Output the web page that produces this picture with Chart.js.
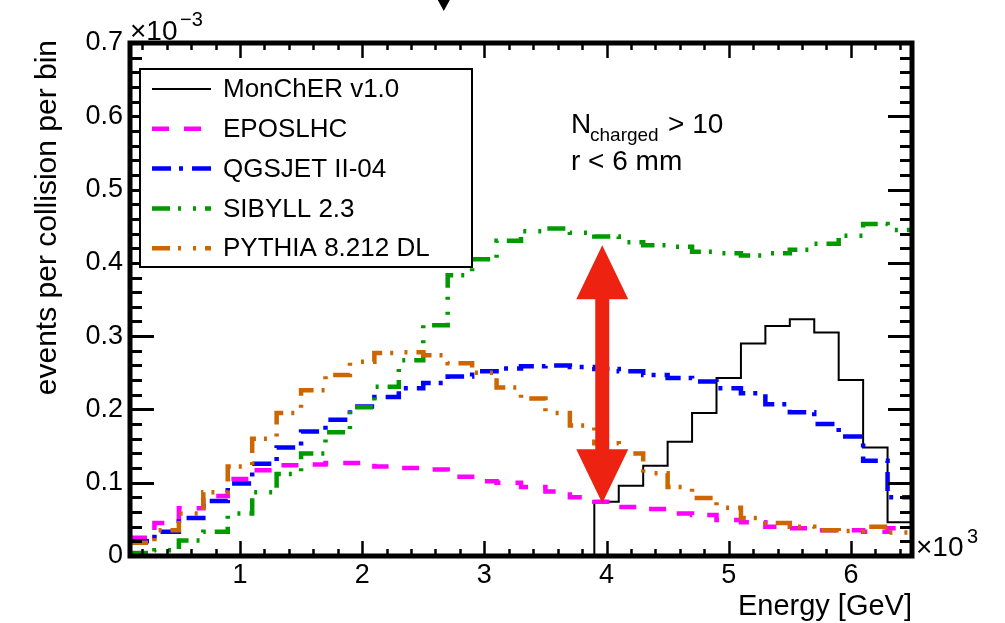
<!DOCTYPE html>
<html>
<head>
<meta charset="utf-8">
<title>Events per collision vs energy</title>
<script src="https://cdn.jsdelivr.net/npm/chart.js"></script>
<style>
  html, body { margin: 0; padding: 0; background: #fff; }
  #wrap { width: 1005px; height: 623px; position: relative; }
</style>
</head>
<body>
<div id="wrap"><canvas id="energyChart"></canvas></div>
<script>
// bin edges, units of 10^3 GeV
const binEdges = [0.1, 0.3, 0.5, 0.7, 0.9, 1.1, 1.3, 1.5, 1.7, 1.9, 2.1, 2.3, 2.5, 2.7, 2.9, 3.1,
                  3.3, 3.5, 3.7, 3.9, 4.1, 4.3, 4.5, 4.7, 4.9, 5.1, 5.3, 5.5, 5.7, 5.9, 6.1, 6.3, 6.5];

// bin contents, units of 10^-3 events per collision
const monCher = [0, 0, 0, 0, 0, 0, 0, 0, 0, 0, 0, 0, 0, 0, 0, 0, 0, 0, 0,
                 0.074, 0.096, 0.123, 0.156, 0.195, 0.243, 0.290, 0.314, 0.323, 0.305, 0.240, 0.148, 0.046];
const eposLhc = [0.025, 0.045, 0.065, 0.082, 0.105, 0.117, 0.124, 0.125, 0.127, 0.127, 0.122, 0.120, 0.118, 0.108, 0.102, 0.100,
                 0.094, 0.088, 0.080, 0.074, 0.067, 0.064, 0.058, 0.056, 0.049, 0.046, 0.040, 0.038, 0.035, 0.035, 0.033, 0.038];
const qgsjet = [0.020, 0.033, 0.052, 0.075, 0.099, 0.126, 0.148, 0.170, 0.186, 0.204, 0.217, 0.229, 0.236, 0.245, 0.252, 0.256,
                0.259, 0.260, 0.258, 0.255, 0.252, 0.247, 0.243, 0.238, 0.229, 0.222, 0.207, 0.196, 0.180, 0.163, 0.130, 0.080];
const sibyll = [0.004, 0.008, 0.021, 0.033, 0.058, 0.087, 0.112, 0.140, 0.169, 0.203, 0.231, 0.267, 0.315, 0.383, 0.405, 0.430,
                0.443, 0.447, 0.441, 0.436, 0.428, 0.424, 0.422, 0.415, 0.413, 0.410, 0.413, 0.418, 0.426, 0.437, 0.453, 0.445];
const pythia = [0.018, 0.035, 0.058, 0.087, 0.122, 0.160, 0.195, 0.226, 0.247, 0.265, 0.277, 0.278, 0.274, 0.263, 0.250, 0.230,
                0.215, 0.195, 0.178, 0.154, 0.140, 0.113, 0.094, 0.079, 0.066, 0.052, 0.045, 0.040, 0.035, 0.034, 0.040, 0.032];

const seriesNames = ['MonChER v1.0', 'EPOSLHC', 'QGSJET II-04', 'SIBYLL 2.3', 'PYTHIA 8.212 DL'];
const xTickValues = [1, 2, 3, 4, 5, 6];
const yTickValues = [0, 0.1, 0.2, 0.3, 0.4, 0.5, 0.6, 0.7];

// red double arrow (x in 10^3 GeV, y in 10^-3)
const arrowX = 3.965;
const arrowTop = 0.424;
const arrowBottom = 0.072;
const topMarkerX = 2.668;

const FONT = "'Liberation Sans', Arial, Helvetica, sans-serif";

function histPoints(vals) {
    const pts = vals.map((v, i) => ({x: binEdges[i], y: v}));
    pts.push({x: binEdges[binEdges.length - 1], y: vals[vals.length - 1]});
    return pts;
}

const styles = [
    {data: monCher, color: '#000000', width: 2, dash: []},
    {data: eposLhc, color: '#ff00ff', width: 4.5, dash: [17, 15]},
    {data: qgsjet, color: '#0000ff', width: 4.5, dash: [19, 8, 4, 9]},
    {data: sibyll, color: '#009900', width: 4.5, dash: [18, 8, 3, 12, 3, 9]},
    {data: pythia, color: '#cc6600', width: 4.5, dash: [18, 8, 3, 12, 3, 9]}
];

const datasets = styles.map((s, i) => ({
    label: seriesNames[i],
    data: histPoints(s.data),
    borderColor: s.color,
    borderWidth: s.width,
    borderDash: s.dash,
    stepped: true,
    pointRadius: 0,
    fill: false,
    tension: 0,
    order: styles.length - i
}));

const rootDecor = {
    id: 'rootDecor',
    afterDatasetsDraw(chart) {
        const {ctx, chartArea: a, scales: {x, y}} = chart;
        ctx.save();
        ctx.strokeStyle = '#000';
        ctx.fillStyle = '#000';

        // tick marks on all four sides
        ctx.lineWidth = 3;
        ctx.beginPath();
        for (let k = 0; k <= 35; k++) {
            const v = k * 0.02;
            const py = Math.round(y.getPixelForValue(v)) + 0.5;
            const len = (k % 5 === 0) ? 24 : 12;
            ctx.moveTo(a.left, py); ctx.lineTo(a.left + len, py);
            ctx.moveTo(a.right, py); ctx.lineTo(a.right - len, py);
        }
        ctx.stroke();
        ctx.lineWidth = 2.5;
        ctx.beginPath();
        for (let k = 1; k <= 32; k++) {
            const v = k * 0.2;
            if (v < 0.1 || v > 6.5) continue;
            const px = Math.round(x.getPixelForValue(v)) + 0.5;
            const len = (k % 5 === 0) ? 15 : 7;
            ctx.moveTo(px, a.bottom); ctx.lineTo(px, a.bottom - len);
            ctx.moveTo(px, a.top); ctx.lineTo(px, a.top + len);
        }
        ctx.stroke();

        // frame
        ctx.lineWidth = 5;
        ctx.strokeRect(a.left, a.top, a.right - a.left, a.bottom - a.top);

        // axis titles and multipliers
        ctx.font = '29px ' + FONT;
        ctx.textAlign = 'right';
        ctx.textBaseline = 'alphabetic';
        ctx.fillText('Energy [GeV]', a.right, 615);
        ctx.save();
        ctx.translate(56, a.top - 3);
        ctx.rotate(-Math.PI / 2);
        ctx.font = '30px ' + FONT;
        ctx.fillText('events per collision per bin', 0, 0);
        ctx.restore();

        ctx.textAlign = 'left';
        ctx.font = '28px ' + FONT;
        ctx.fillText('\u00d710', a.right + 4, 556);
        ctx.font = '20px ' + FONT;
        ctx.fillText('3', a.right + 55, 543);
        ctx.font = '28px ' + FONT;
        ctx.fillText('\u00d710', a.left, 40);
        ctx.font = '20px ' + FONT;
        ctx.fillText('\u22123', a.left + 50, 26);

        // annotation text
        ctx.font = '28px ' + FONT;
        ctx.fillText('N', 571, 133);
        ctx.font = '19px ' + FONT;
        ctx.fillText('charged', 590, 141);
        ctx.font = '28px ' + FONT;
        ctx.fillText('> 10', 668, 133);
        ctx.fillText('r < 6 mm', 571, 170);

        // legend
        const lx = 140, ly = 69, lw = 332, lh = 198;
        ctx.fillStyle = '#fff';
        ctx.fillRect(lx, ly, lw, lh);
        ctx.lineWidth = 2;
        ctx.strokeStyle = '#000';
        ctx.strokeRect(lx, ly, lw, lh);
        ctx.font = '26px ' + FONT;
        ctx.textBaseline = 'middle';
        chart.data.datasets.forEach((ds, i) => {
            const cy = ly + 20 + i * 39.8;
            ctx.save();
            ctx.strokeStyle = ds.borderColor;
            ctx.lineWidth = ds.borderWidth;
            ctx.setLineDash(ds.borderDash);
            ctx.beginPath();
            ctx.moveTo(152, cy); ctx.lineTo(211, cy);
            ctx.stroke();
            ctx.restore();
            ctx.fillStyle = '#000';
            ctx.fillText(ds.label, 223, cy + 1);
        });

        // red double arrow
        const ax = x.getPixelForValue(arrowX);
        const yT = y.getPixelForValue(arrowTop);
        const yB = y.getPixelForValue(arrowBottom);
        const hw = 26, hl = 54, sw = 7;
        ctx.fillStyle = '#ee2211';
        ctx.beginPath();
        ctx.moveTo(ax, yT);
        ctx.lineTo(ax + hw, yT + hl);
        ctx.lineTo(ax + sw, yT + hl);
        ctx.lineTo(ax + sw, yB - hl);
        ctx.lineTo(ax + hw, yB - hl);
        ctx.lineTo(ax, yB);
        ctx.lineTo(ax - hw, yB - hl);
        ctx.lineTo(ax - sw, yB - hl);
        ctx.lineTo(ax - sw, yT + hl);
        ctx.lineTo(ax - hw, yT + hl);
        ctx.closePath();
        ctx.fill();

        // small black marker at the top edge
        const mx = x.getPixelForValue(topMarkerX);
        ctx.fillStyle = '#000';
        ctx.beginPath();
        ctx.moveTo(mx - 6, 0); ctx.lineTo(mx + 6, 0); ctx.lineTo(mx, 11);
        ctx.closePath();
        ctx.fill();

        ctx.restore();
    }
};

const ctx = document.getElementById('energyChart').getContext('2d');
const chart = new Chart(ctx, {
    type: 'line',
    data: {datasets: datasets},
    plugins: [rootDecor],
    options: {
        responsive: true,
        maintainAspectRatio: false,
        animation: false,
        devicePixelRatio: 1,
        layout: {padding: {top: 43, right: 93, bottom: 0, left: 0}},
        plugins: {legend: {display: false}, tooltip: {enabled: false}},
        scales: {
            x: {
                type: 'linear',
                min: 0.1,
                max: 6.5,
                grid: {display: false, drawTicks: false},
                border: {display: false},
                afterFit: s => { s.height = 67; },
                afterBuildTicks: s => { s.ticks = xTickValues.map(v => ({value: v})); },
                ticks: {
                    autoSkip: false,
                    maxRotation: 0,
                    padding: 3,
                    color: '#000',
                    font: {family: FONT, size: 27},
                    callback: v => String(v)
                }
            },
            y: {
                type: 'linear',
                min: 0,
                max: 0.7,
                grid: {display: false, drawTicks: false},
                border: {display: false},
                afterFit: s => { s.width = 130; },
                afterBuildTicks: s => { s.ticks = yTickValues.map(v => ({value: v})); },
                ticks: {
                    padding: 7,
                    color: '#000',
                    font: {family: FONT, size: 27},
                    callback: v => (v === 0 ? '0' : v.toFixed(1))
                }
            }
        }
    }
});
</script>
</body>
</html>
